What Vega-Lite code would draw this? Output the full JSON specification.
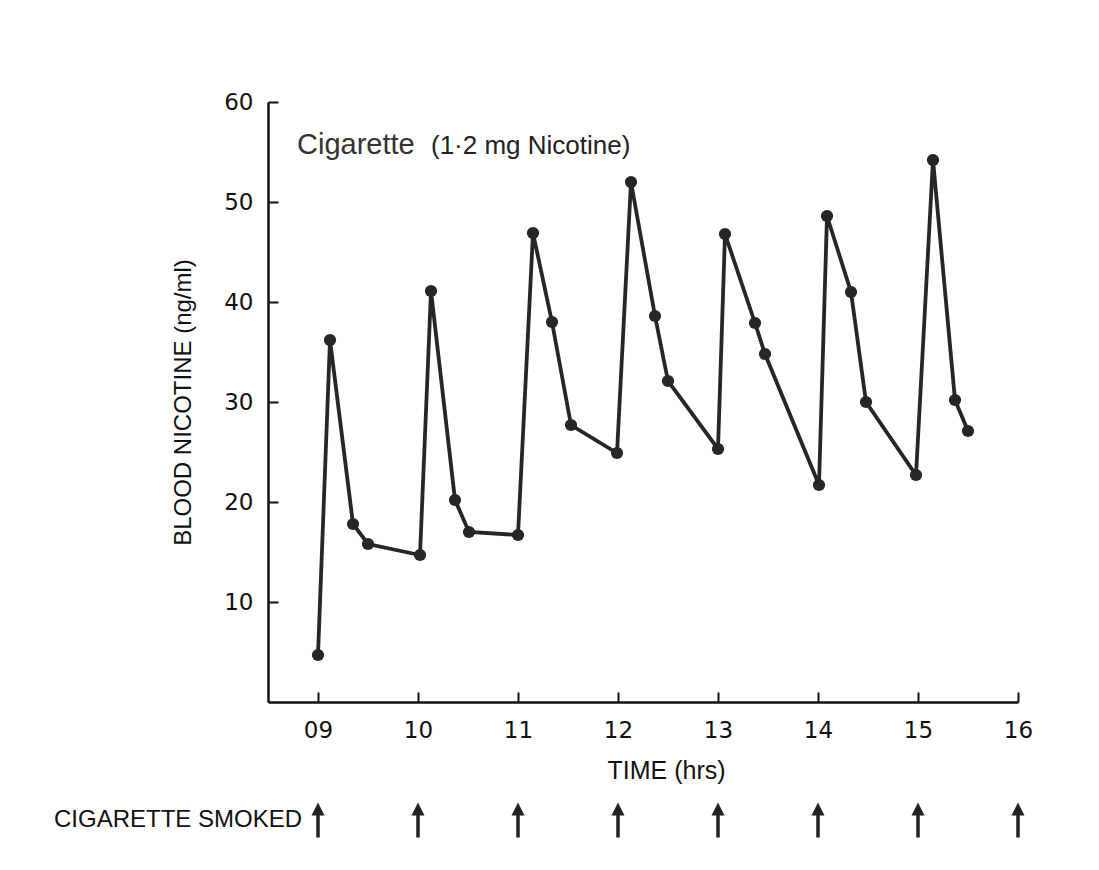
{
  "$schema": "https://vega.github.io/schema/vega-lite/v6.json",
  "width": 750,
  "height": 600,
  "autosize": {"type": "none"},
  "padding": {"left": 268, "top": 102, "right": 81, "bottom": 168},
  "background": "white",
  "config": {"view": {"stroke": null}, "font": "Liberation Sans"},
  "datasets": {
    "nicotine": [
      {"time": 9.0, "nicotine": 4.7},
      {"time": 9.12, "nicotine": 36.2},
      {"time": 9.35, "nicotine": 17.8},
      {"time": 9.5, "nicotine": 15.8},
      {"time": 10.02, "nicotine": 14.7},
      {"time": 10.13, "nicotine": 41.1},
      {"time": 10.37, "nicotine": 20.2},
      {"time": 10.51, "nicotine": 17.0},
      {"time": 11.0, "nicotine": 16.7},
      {"time": 11.15, "nicotine": 46.9},
      {"time": 11.34, "nicotine": 38.0},
      {"time": 11.53, "nicotine": 27.7},
      {"time": 11.99, "nicotine": 24.9},
      {"time": 12.13, "nicotine": 52.0},
      {"time": 12.37, "nicotine": 38.6},
      {"time": 12.5, "nicotine": 32.1},
      {"time": 13.0, "nicotine": 25.3},
      {"time": 13.07, "nicotine": 46.8},
      {"time": 13.37, "nicotine": 37.9},
      {"time": 13.47, "nicotine": 34.8},
      {"time": 14.01, "nicotine": 21.7},
      {"time": 14.09, "nicotine": 48.6},
      {"time": 14.33, "nicotine": 41.0},
      {"time": 14.48, "nicotine": 30.0},
      {"time": 14.98, "nicotine": 22.7},
      {"time": 15.15, "nicotine": 54.2},
      {"time": 15.37, "nicotine": 30.2},
      {"time": 15.5, "nicotine": 27.1}
    ],
    "smoked": [
      {"time": 9}, {"time": 10}, {"time": 11}, {"time": 12},
      {"time": 13}, {"time": 14}, {"time": 15}, {"time": 16}
    ]
  },
  "layer": [
    {
      "data": {"name": "nicotine"},
      "mark": {
        "type": "line",
        "color": "#262626",
        "strokeWidth": 3.8,
        "point": {"filled": true, "size": 150, "color": "#262626", "opacity": 1}
      },
      "encoding": {
        "x": {
          "field": "time",
          "type": "quantitative",
          "scale": {"domain": [8.5, 16], "nice": false, "zero": false},
          "axis": {
            "title": "TIME (hrs)",
            "values": [9, 10, 11, 12, 13, 14, 15, 16],
            "format": "02d",
            "grid": false,
            "domainColor": "#111",
            "domainWidth": 2.5,
            "tickColor": "#111",
            "tickWidth": 2,
            "tickSize": -10,
            "labelFont": "DejaVu Sans",
            "labelFontSize": 23,
            "labelColor": "#111",
            "labelPadding": 27,
            "labelFlush": false,
            "labelOverlap": false,
            "labelBound": false,
            "titleFont": "Liberation Sans",
            "titleFontSize": 25,
            "titleFontWeight": "normal",
            "titleColor": "#111",
            "titlePadding": 16,
            "titleX": 398
          }
        },
        "y": {
          "field": "nicotine",
          "type": "quantitative",
          "scale": {"domain": [0, 60], "nice": false, "zero": true},
          "axis": {
            "title": "BLOOD NICOTINE (ng/ml)",
            "values": [10, 20, 30, 40, 50, 60],
            "grid": false,
            "domainColor": "#111",
            "domainWidth": 2.5,
            "tickColor": "#111",
            "tickWidth": 2,
            "tickSize": -10,
            "labelFont": "DejaVu Sans",
            "labelFontSize": 23,
            "labelColor": "#111",
            "labelPadding": 25,
            "labelOverlap": false,
            "labelBound": false,
            "titleFont": "Liberation Sans",
            "titleFontSize": 24,
            "titleFontWeight": "normal",
            "titleColor": "#111",
            "titlePadding": 28
          }
        }
      }
    },
    {
      "data": {"values": [{"label": "Cigarette"}]},
      "mark": {"type": "text", "align": "left", "baseline": "alphabetic", "fontSize": 29, "font": "Liberation Sans", "color": "#333"},
      "encoding": {"text": {"field": "label"}, "x": {"datum": 8.79}, "y": {"datum": 54.8}}
    },
    {
      "data": {"values": [{"label": "(1·2 mg Nicotine)"}]},
      "mark": {"type": "text", "align": "left", "baseline": "alphabetic", "fontSize": 26, "letterSpacing": 1, "font": "Liberation Sans", "color": "#222"},
      "encoding": {"text": {"field": "label"}, "x": {"datum": 10.13}, "y": {"datum": 54.8}}
    },
    {
      "data": {"values": [{"label": "CIGARETTE SMOKED"}]},
      "mark": {"type": "text", "align": "right", "baseline": "middle", "fontSize": 24, "font": "Liberation Sans", "color": "#111"},
      "encoding": {"text": {"field": "label"}, "x": {"datum": 8.84}, "y": {"datum": -11.8}}
    },
    {
      "data": {"name": "smoked"},
      "mark": {
        "type": "point",
        "shape": "M0,-1L0.37,-0.26L0.1,-0.26L0.1,1L-0.1,1L-0.1,-0.26L-0.37,-0.26Z",
        "filled": true,
        "size": 1225,
        "color": "#222",
        "opacity": 1
      },
      "encoding": {
        "x": {"field": "time", "type": "quantitative"},
        "y": {"datum": -11.8}
      }
    }
  ]
}
